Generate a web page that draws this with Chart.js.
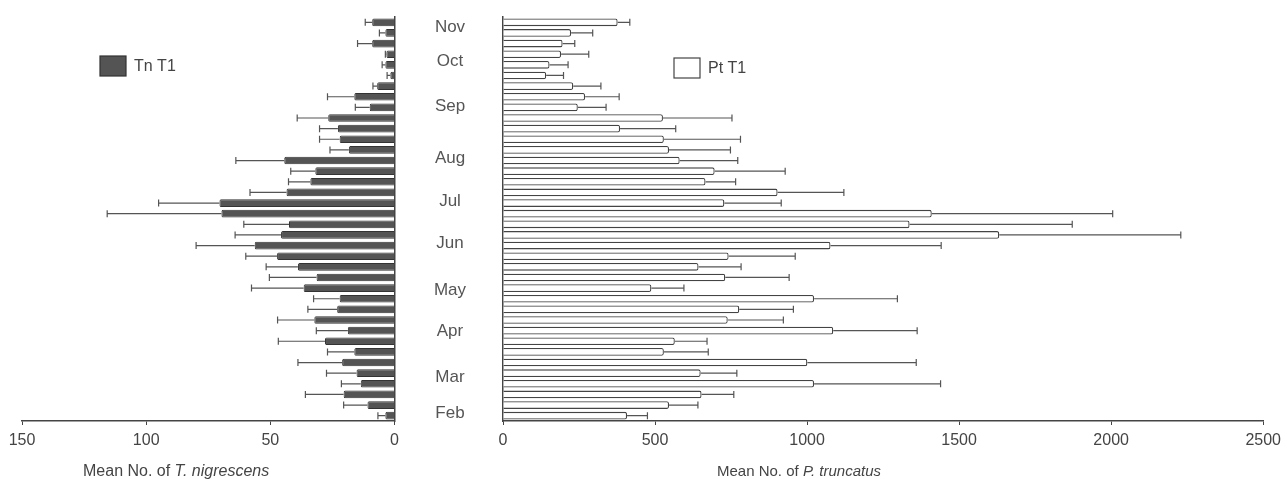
<!DOCTYPE html>
<html>
<head>
<meta charset="utf-8">
<script src="https://cdn.jsdelivr.net/npm/chart.js@4.4.1/dist/chart.umd.min.js"></script>
<style>
  html, body { margin: 0; padding: 0; background: #fff; }
  #wrap { position: relative; width: 1287px; height: 479px; }
  #chartTn { position: absolute; left: 0; top: 0; }
  #chartPt { position: absolute; left: 405px; top: 0; }
</style>
</head>
<body>
<div id="wrap">
  <canvas id="chartTn" width="405" height="479" style="width:405px;height:479px"></canvas>
  <canvas id="chartPt" width="882" height="479" style="width:882px;height:479px"></canvas>
</div>
<script>
// sampling dates, top row = latest (Nov), bottom row = earliest (Feb)
var samples = ['38', '37', '36', '35', '34', '33', '32', '31', '30', '29',
               '28', '27', '26', '25', '24', '23', '22', '21', '20', '19',
               '18', '17', '16', '15', '14', '13', '12', '11', '10', '9',
               '8', '7', '6', '5', '4', '3', '2', '1'];

// month names and the row (index) they sit beside
var monthNames = ['Nov', 'Oct', 'Sep', 'Aug', 'Jul', 'Jun', 'May', 'Apr', 'Mar', 'Feb'];
var monthPos = [0.5, 3.7, 7.9, 12.8, 16.8, 20.8, 25.2, 29.1, 33.4, 36.8];

// T. nigrescens, trap 1
var tnMean = [9.0, 3.7, 9.0, 3.3, 3.7, 1.7, 7.0, 16.2, 10.0, 26.7,
              22.8, 22.1, 18.4, 44.4, 31.9, 33.9, 43.5, 70.5, 69.7, 42.5,
              45.7, 56.3, 47.3, 38.9, 31.4, 36.6, 22.1, 23.1, 32.3, 18.8,
              28.0, 16.2, 21.1, 15.3, 13.6, 20.5, 10.9, 3.7];
var tnSE = [2.8, 2.4, 5.9, 0.4, 1.3, 1.3, 1.7, 10.8, 5.8, 12.5,
            7.4, 8.1, 7.6, 19.5, 9.9, 8.8, 14.7, 24.5, 46.0, 18.2,
            18.5, 23.6, 12.6, 12.8, 19.0, 21.0, 10.5, 11.8, 14.8, 12.7,
            18.8, 10.8, 17.8, 12.1, 7.8, 15.4, 9.6, 3.0];

// P. truncatus, trap 1
var ptMean = [377, 224, 196, 191, 153, 142, 231, 270, 246, 526,
              385, 529, 546, 581, 696, 666, 903, 728, 1410, 1337,
              1632, 1077, 742, 643, 731, 488, 1023, 777, 739, 1086,
              565, 529, 1001, 650, 1023, 653, 546, 408];
var ptSE = [40, 71, 40, 91, 61, 57, 91, 112, 93, 227,
            183, 252, 202, 191, 232, 99, 218, 187, 595, 535,
            597, 364, 219, 140, 210, 107, 274, 178, 183, 276,
            106, 146, 358, 119, 416, 106, 95, 67];

var fontFam = "'Liberation Sans', Arial, sans-serif";
var inkColor = '#444';

// whiskers drawn from the end of each bar
var errorBars = {
    id: 'errorBars',
    afterDatasetsDraw: function (chart, args, opts) {
        var ctx = chart.ctx;
        var xs = chart.scales.x;
        chart.data.datasets.forEach(function (ds, di) {
            var meta = chart.getDatasetMeta(di);
            ctx.save();
            ctx.strokeStyle = opts.color;
            ctx.lineWidth = opts.width;
            meta.data.forEach(function (bar, i) {
                var x0 = xs.getPixelForValue(ds.data[i]);
                var x1 = xs.getPixelForValue(ds.data[i] + ds.errors[i]);
                ctx.beginPath();
                ctx.moveTo(x0, bar.y);
                ctx.lineTo(x1, bar.y);
                ctx.moveTo(x1, bar.y - opts.cap);
                ctx.lineTo(x1, bar.y + opts.cap);
                ctx.stroke();
            });
            ctx.restore();
        });
    }
};

// small legend box placed inside the plot
var boxLegend = {
    id: 'boxLegend',
    afterDraw: function (chart, args, opts) {
        var ctx = chart.ctx;
        var ds = chart.data.datasets[0];
        var x = chart.chartArea.left + opts.dx;
        var y = chart.chartArea.top + opts.dy;
        ctx.save();
        ctx.fillStyle = ds.backgroundColor;
        ctx.strokeStyle = ds.borderColor;
        ctx.lineWidth = 1.2;
        ctx.fillRect(x, y, 26, 20);
        ctx.strokeRect(x, y, 26, 20);
        ctx.fillStyle = inkColor;
        ctx.font = '16px ' + fontFam;
        ctx.textBaseline = 'middle';
        ctx.fillText(ds.label, x + 34, y + 11);
        ctx.restore();
    }
};

// axis title with the species name in italics
var speciesTitle = {
    id: 'speciesTitle',
    afterDraw: function (chart, args, opts) {
        var ctx = chart.ctx;
        var x = chart.chartArea.left + opts.dx;
        var y = chart.chartArea.bottom + opts.dy;
        ctx.save();
        ctx.fillStyle = inkColor;
        ctx.textBaseline = 'middle';
        ctx.font = opts.size + 'px ' + fontFam;
        ctx.fillText(opts.prefix, x, y);
        var w = ctx.measureText(opts.prefix).width;
        ctx.font = 'italic ' + opts.size + 'px ' + fontFam;
        ctx.fillText(opts.species, x + w, y);
        ctx.restore();
    }
};

// month names in the gap between the two panels, placed on the row scale
var monthLabels = {
    id: 'monthLabels',
    afterDraw: function (chart, args, opts) {
        var ctx = chart.ctx;
        var ys = chart.scales.y;
        var x = chart.chartArea.left - opts.gap;
        ctx.save();
        ctx.fillStyle = opts.color;
        ctx.font = opts.size + 'px ' + fontFam;
        ctx.textAlign = 'center';
        ctx.textBaseline = 'middle';
        monthPos.forEach(function (p, i) {
            ctx.fillText(monthNames[i], x, ys.getPixelForValue(p));
        });
        ctx.restore();
    }
};

var chartTn = new Chart(
    document.getElementById('chartTn'),
    {
        type: 'bar',
        data: {
            labels: samples,
            datasets: [{
                label: 'Tn T1',
                data: tnMean,
                errors: tnSE,
                backgroundColor: '#545454',
                borderColor: '#333',
                borderWidth: 1,
                borderRadius: 1.5,
                barPercentage: 0.72,
                categoryPercentage: 1
            }]
        },
        options: {
            indexAxis: 'y',
            responsive: false,
            animation: false,
            layout: { padding: { left: 22, right: 3, top: 17, bottom: 0 } },
            scales: {
                x: {
                    type: 'linear',
                    reverse: true,
                    min: 0,
                    max: 150,
                    ticks: {
                        stepSize: 50,
                        color: inkColor,
                        padding: 6,
                        font: { size: 16, family: fontFam },
                        callback: function (v) { return String(v); }
                    },
                    grid: { display: true, drawOnChartArea: false, tickLength: 4, color: inkColor },
                    border: { color: inkColor, width: 1.5 },
                    afterFit: function (s) { s.height = 58; }
                },
                y: {
                    position: 'right',
                    ticks: { display: false },
                    grid: { display: false, drawTicks: false },
                    border: { display: true, color: inkColor, width: 1.5 },
                    afterFit: function (s) { s.width = 0; }
                }
            },
            plugins: {
                legend: { display: false },
                tooltip: { enabled: false },
                errorBars: { color: '#555', width: 1.2, cap: 3.5 },
                boxLegend: { dx: 78, dy: 39 },
                speciesTitle: { prefix: 'Mean No. of ', species: 'T. nigrescens', size: 16, dx: 61, dy: 51 }
            }
        },
        plugins: [errorBars, boxLegend, speciesTitle]
    }
);

var chartPt = new Chart(
    document.getElementById('chartPt'),
    {
        type: 'bar',
        data: {
            labels: samples,
            datasets: [{
                label: 'Pt T1',
                data: ptMean,
                errors: ptSE,
                backgroundColor: '#ffffff',
                borderColor: '#444',
                borderWidth: 1.3,
                borderRadius: 2,
                barPercentage: 0.72,
                categoryPercentage: 1
            }]
        },
        options: {
            indexAxis: 'y',
            responsive: false,
            animation: false,
            layout: { padding: { left: 0, right: 20, top: 17, bottom: 0 } },
            scales: {
                x: {
                    type: 'linear',
                    min: 0,
                    max: 2500,
                    ticks: {
                        stepSize: 500,
                        color: inkColor,
                        padding: 6,
                        font: { size: 16, family: fontFam },
                        callback: function (v) { return String(v); }
                    },
                    grid: { display: true, drawOnChartArea: false, tickLength: 4, color: inkColor },
                    border: { color: inkColor, width: 1.5 },
                    afterFit: function (s) { s.height = 58; }
                },
                y: {
                    position: 'left',
                    ticks: { display: false },
                    grid: { display: false, drawTicks: false },
                    border: { display: true, color: inkColor, width: 1.5 },
                    afterFit: function (s) { s.width = 98; }
                }
            },
            plugins: {
                legend: { display: false },
                tooltip: { enabled: false },
                errorBars: { color: '#555', width: 1.2, cap: 3.5 },
                boxLegend: { dx: 171, dy: 41 },
                monthLabels: { gap: 53, size: 17, color: '#555' },
                speciesTitle: { prefix: 'Mean No. of ', species: 'P. truncatus', size: 15, dx: 214, dy: 51 }
            }
        },
        plugins: [errorBars, boxLegend, monthLabels, speciesTitle]
    }
);
</script>
</body>
</html>
